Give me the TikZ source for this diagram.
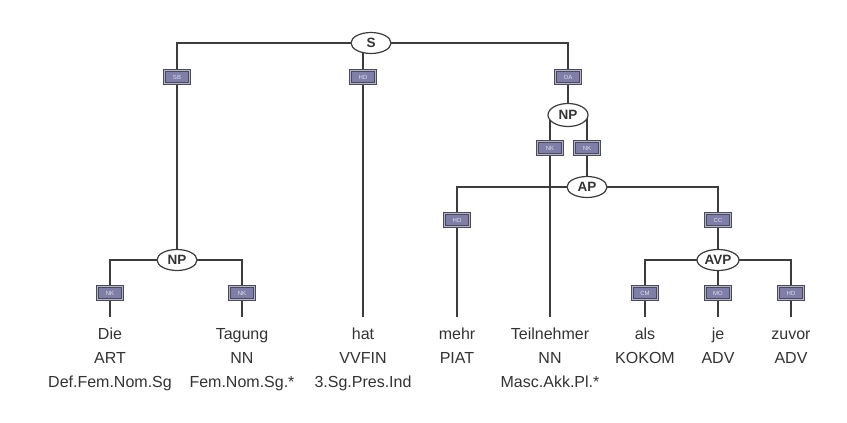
\documentclass[tikz,border=0pt]{standalone}
\usepackage{fontspec}
\setmainfont{Liberation Sans}
\usetikzlibrary{shapes.geometric}
\pgfdeclarelayer{background}
\pgfsetlayers{background,main}
\definecolor{linec}{HTML}{3C3C3C}
\definecolor{textc}{HTML}{333333}
\definecolor{boxfill}{HTML}{7E7EA6}
\definecolor{boxdraw}{HTML}{4A4A5A}
\definecolor{boxring}{HTML}{B4B4CC}
\definecolor{boxtext}{HTML}{E0E0F2}
\tikzset{
  cat/.style={ellipse, draw=linec, line width=1.2pt, fill=white, minimum width=40pt, minimum height=21pt, inner sep=0pt, font=\fontsize{13.5}{14}\selectfont\bfseries, text=textc},
  lab/.style={rectangle, draw=boxdraw, double=boxring, double distance=1pt, line width=0.9pt, fill=boxfill, minimum width=25pt, minimum height=13pt, inner sep=0pt, font=\fontsize{6}{6}\selectfont, text=boxtext},
  word/.style={anchor=base, text height=12pt, text depth=3pt, inner xsep=1pt, inner ysep=9.5pt, font=\fontsize{16}{16}\selectfont, text=textc},
  tag/.style={anchor=base, inner sep=1pt, font=\fontsize{16}{16}\selectfont, text=textc},
  conn/.style={draw=linec, line width=1.3pt}
}
\begin{document}
\begin{tikzpicture}[x=1pt,y=-1pt]
\useasboundingbox (0,0) rectangle (847,423);
% phrase nodes
\node[cat] (S) at (371,43) {S};
\node[cat] (NPa) at (177,260) {NP};
\node[cat, minimum height=23pt] (NPb) at (568,115) {NP};
\node[cat] (AP) at (587,187) {AP};
\node[cat, minimum width=42pt] (AVP) at (718,260) {AVP};
% edge labels
\node[lab] (SB) at (177,77) {SB};
\node[lab] (HDa) at (363,77) {HD};
\node[lab] (OA) at (568,77) {OA};
\node[lab] (NKa) at (110,293) {NK};
\node[lab] (NKb) at (242,293) {NK};
\node[lab] (NKc) at (550,148) {NK};
\node[lab] (NKd) at (587,148) {NK};
\node[lab] (HDb) at (457,220) {HD};
\node[lab] (CC) at (718,220) {CC};
\node[lab] (CM) at (645,293) {CM};
\node[lab] (MO) at (718,293) {MO};
\node[lab] (HDc) at (791,293) {HD};
% words
\node[word] (Die) at (110,339) {Die};
\node[word] (Tagung) at (242,339) {Tagung};
\node[word] (hat) at (363,339) {hat};
\node[word] (mehr) at (457,339) {mehr};
\node[word] (Teil) at (550,339) {Teilnehmer};
\node[word] (als) at (645,339) {als};
\node[word] (je) at (718,339) {je};
\node[word] (zuvor) at (791,339) {zuvor};
% POS tags
\node[tag] (p1) at (110,363) {ART};
\node[tag] (p2) at (242,363) {NN};
\node[tag] (p3) at (363,363) {VVFIN};
\node[tag] (p4) at (457,363) {PIAT};
\node[tag] (p5) at (550,363) {NN};
\node[tag] (p6) at (645,363) {KOKOM};
\node[tag] (p7) at (718,363) {ADV};
\node[tag] (p8) at (791,363) {ADV};
% morphology
\node[tag] (m1) at (110,387) {Def.Fem.Nom.Sg};
\node[tag] (m2) at (242,387) {Fem.Nom.Sg.*};
\node[tag] (m3) at (363,387) {3.Sg.Pres.Ind};
\node[tag] (m5) at (550,387) {Masc.Akk.Pl.*};
% connectors
\begin{pgfonlayer}{background}
\fill[white] (0,0) rectangle (847,423);
\draw[conn] (S.center) -| (SB.center);
\draw[conn] (SB) -- (NPa);
\draw[conn] (HDa.center) -- (HDa.center |- S.center);
\draw[conn] (HDa) -- (hat);
\draw[conn] (S.center) -| (OA.center);
\draw[conn] (OA) -- (NPb);
\draw[conn] (NPa.center) -| (NKa.center);
\draw[conn] (NKa) -- (Die);
\draw[conn] (NPa.center) -| (NKb.center);
\draw[conn] (NKb) -- (Tagung);
\draw[conn] (NKc.center) -- (NKc.center |- NPb.center);
\draw[conn] (NKc) -- (Teil);
\draw[conn] (NKd.center) -- (NKd.center |- NPb.center);
\draw[conn] (NKd) -- (AP);
\draw[conn] (AP.center) -| (HDb.center);
\draw[conn] (HDb) -- (mehr);
\draw[conn] (AP.center) -| (CC.center);
\draw[conn] (CC) -- (AVP);
\draw[conn] (AVP.center) -| (CM.center);
\draw[conn] (CM) -- (als);
\draw[conn] (AVP) -- (MO);
\draw[conn] (MO) -- (je);
\draw[conn] (AVP.center) -| (HDc.center);
\draw[conn] (HDc) -- (zuvor);
\end{pgfonlayer}
\end{tikzpicture}
\end{document}
